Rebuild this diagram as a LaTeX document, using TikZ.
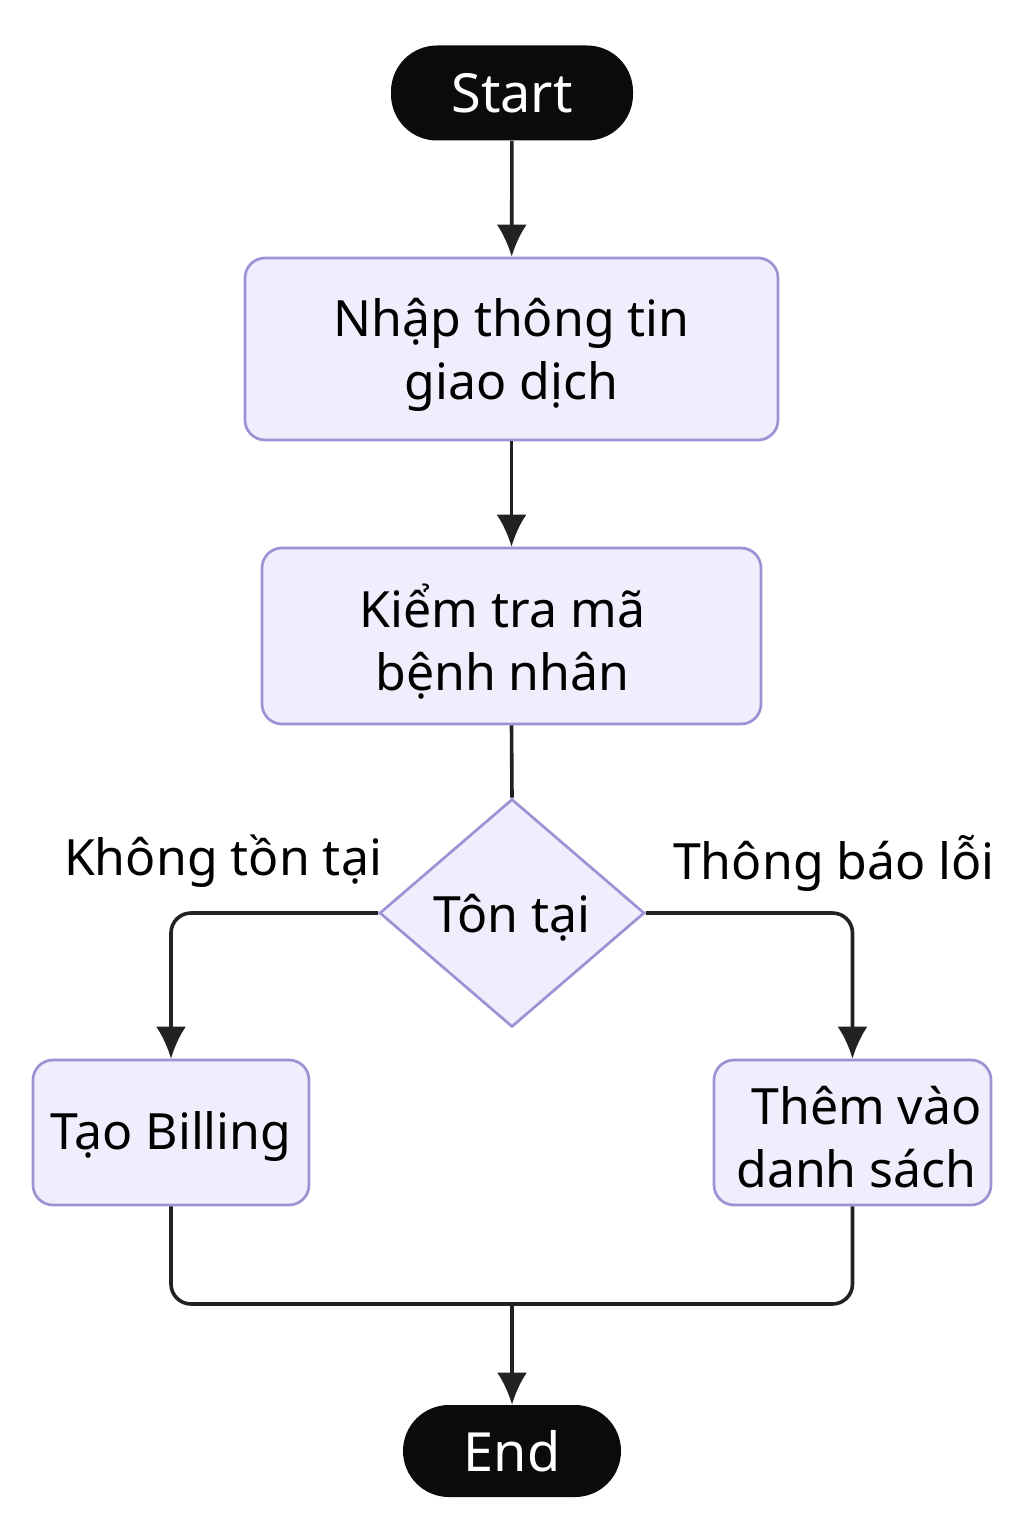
\documentclass[tikz,border=0pt]{standalone}
\usepackage{fontspec}
\setmainfont{Noto Sans}
\usetikzlibrary{arrows.meta,shapes.geometric}
\definecolor{boxfill}{HTML}{EFEEFC}
\definecolor{boxline}{HTML}{9B93D3}
\definecolor{pillfill}{HTML}{0B0B0B}
\definecolor{linecol}{HTML}{222222}
\begin{document}
\begin{tikzpicture}[x=0.5pt,y=-0.5pt,
  pill/.style={draw=none,fill=pillfill,text=white,rounded corners=23pt,inner sep=0pt,font=\fontsize{27}{31}\selectfont},
  procbox/.style={draw=boxline,fill=boxfill,line width=1.35pt,rounded corners=10pt,inner sep=0pt},
  txt/.style={align=center,inner sep=0pt,font=\fontsize{25}{31.5}\selectfont},
  decision/.style={diamond,draw=boxline,fill=boxfill,line width=1.35pt,inner sep=0pt,minimum width=132.5pt,minimum height=114pt},
  conn/.style={draw=linecol,line width=1.8pt,rounded corners=10pt},
  arr/.style={conn,-{Latex[length=16pt,width=15pt]}},
  lbl/.style={font=\fontsize{25}{31}\selectfont,inner sep=0pt}
]
\useasboundingbox (0,0) rectangle (1024,1536);
\fill[white] (0,0) rectangle (1024,1536);

\node[pill,minimum width=121pt,minimum height=47.5pt] (start) at (512,93) {Start};
\node[procbox,minimum width=266.5pt,minimum height=91pt] (b1) at (511.5,349) {};
\node[txt] (t1) at ([yshift=-3pt]b1.center) {Nhập thông tin\\giao dịch};
\node[procbox,minimum width=249.5pt,minimum height=88pt] (b2) at (511.5,636) {};
\node[txt] (t2) at ([yshift=-3pt,xshift=-4.5pt]b2.center) {Kiểm tra mã\\bệnh nhân};
\node[decision] (dia) at (512,913) {};
\node[txt] (t3) at ([yshift=-2.5pt]dia.center) {Tôn tại};
\node[procbox,minimum width=138pt,minimum height=72.5pt] (b3) at (171,1132.5) {};
\node[txt] (t4) at ([yshift=-2pt]b3.center) {Tạo Billing};
\node[procbox,minimum width=138.5pt,minimum height=72.5pt] (b4) at (852.5,1132.5) {};
\node[txt] (t5) at ([yshift=-2.5pt,xshift=2pt]b4.center) {\hspace*{10pt}Thêm vào\\danh sách};
\node[pill,minimum width=109pt,minimum height=46pt] (end) at (512,1451) {End};

\node[lbl] (l1) at (223,861) {Không tồn tại};
\node[lbl] (l2) at (834,863) {Thông báo lỗi};

\coordinate (j) at (512,1304);

\draw[arr] (start) -- (b1);
\draw[arr] (b1) -- (b2);
\draw[conn] (b2.south) -- (dia.north);
\draw[arr] (dia.west) -| (b3.north);
\draw[arr] (dia.east) -| (b4.north);
\draw[conn] (b3.south) |- (j);
\draw[conn] (b4.south) |- (j);
\draw[arr] (j) -- (end.north);
\end{tikzpicture}
\end{document}
